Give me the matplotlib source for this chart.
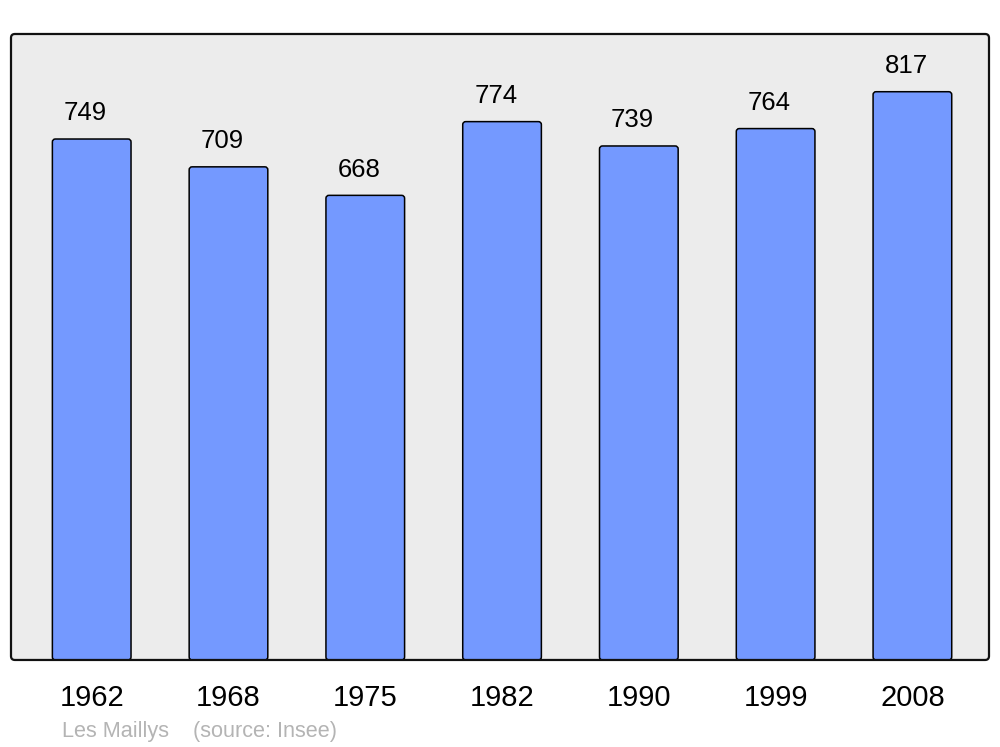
import matplotlib
matplotlib.use("Agg")
import matplotlib.pyplot as plt
from matplotlib.patches import FancyBboxPatch

years = ["1962", "1968", "1975", "1982", "1990", "1999", "2008"]
population = [749, 709, 668, 774, 739, 764, 817]
place = "Les Maillys"
source = "(source: Insee)"

plt.rcParams['font.family'] = ['Liberation Sans', 'DejaVu Sans']

fig = plt.figure(figsize=(10, 7.47), dpi=100)
ax = fig.add_axes([0.011, 0.1165, 0.978, 0.838])
ax.patch.set_visible(False)
for s in ax.spines.values():
    s.set_visible(False)

x = list(range(len(years)))
bars = ax.bar(x, population, width=0.575, color='#7499ff', edgecolor='black', linewidth=1.1)
ax.set_xlim(-0.59, 6.56)
ax.set_ylim(0, 900)

# replace bars by rounded versions
for b in bars:
    bx, by = b.get_x(), b.get_y()
    w, h = b.get_width(), b.get_height()
    rp = FancyBboxPatch((bx, by), w, h, boxstyle="round,pad=0,rounding_size=0.022",
                        mutation_aspect=195, facecolor='#7499ff', edgecolor='black',
                        linewidth=1.1, zorder=2)
    ax.add_patch(rp)
    b.set_visible(False)

# frame
bg = FancyBboxPatch((0, 0), 1, 1, boxstyle="round,pad=0,rounding_size=0.004",
                    mutation_aspect=1.56, transform=ax.transAxes, facecolor='#ececec',
                    edgecolor='none', zorder=0, clip_on=False)
ax.add_patch(bg)
fr = FancyBboxPatch((0, 0), 1, 1, boxstyle="round,pad=0,rounding_size=0.004",
                    mutation_aspect=1.56, transform=ax.transAxes, facecolor='none',
                    edgecolor='#111111', linewidth=1.6, zorder=5, clip_on=False)
ax.add_patch(fr)

for xi, v in zip(x, population):
    ax.annotate(str(v), (xi, v), xytext=(-4.5, 13.5), textcoords='offset points',
                ha='center', va='baseline', fontsize=18.5, color='black')

ax.set_xticks(x)
ax.set_xticklabels(years, fontsize=21)
ax.tick_params(axis='x', length=0, pad=17)
ax.set_yticks([])

fig.text(0.0615, 1 - 737 / 747, place, fontsize=15.6, color='#b4b4b4', va='baseline', ha='left')
fig.text(0.193, 1 - 737 / 747, source, fontsize=15.6, color='#b4b4b4', va='baseline', ha='left')

fig.savefig("out.png", dpi=100, facecolor='white')
